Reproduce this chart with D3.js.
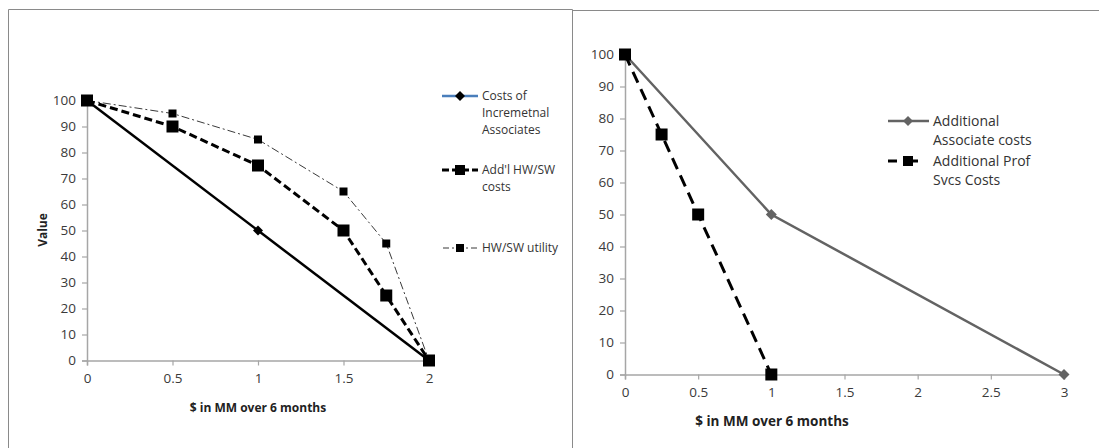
<!DOCTYPE html>
<html>
<head>
<meta charset="utf-8">
<script src="https://cdn.jsdelivr.net/npm/d3@7"></script>
<style>
  body { margin: 0; background: #fff; }
  text { font-family: "Open Sans", sans-serif; }
</style>
</head>
<body>
<svg width="1099" height="448"></svg>
<script>
// left chart data
const assocX = [0, 1, 2];
const assocY = [100, 50, 0];
const hwCostX = [0, 0.5, 1, 1.5, 1.75, 2];
const hwCostY = [100, 90, 75, 50, 25, 0];
const hwUtilX = [0, 0.5, 1, 1.5, 1.75, 2];
const hwUtilY = [100, 95, 85, 65, 45, 0];
const leftXTicks = [0, 0.5, 1, 1.5, 2];
const leftLegend = [['Costs of', 'Incremetnal', 'Associates'], ["Add'l HW/SW", 'costs'], ['HW/SW utility']];

// right chart data
const addAssocX = [0, 1, 3];
const addAssocY = [100, 50, 0];
const profX = [0, 0.25, 0.5, 1];
const profY = [100, 75, 50, 0];
const rightXTicks = [0, 0.5, 1, 1.5, 2, 2.5, 3];
const rightLegend = [['Additional', 'Associate costs'], ['Additional Prof', 'Svcs Costs']];

const yTicks = [0, 10, 20, 30, 40, 50, 60, 70, 80, 90, 100];
const xTitle = '$ in MM over 6 months';

const svg = d3.select('svg');
svg.append('rect').attr('width', 1099).attr('height', 448).attr('fill', '#fff');

// panel borders
svg.append('path')
  .attr('d', 'M8.5,448 V9.5 H572.5 V448 M572.5,10.5 H1099')
  .attr('fill', 'none').attr('stroke', '#8a8a8a').attr('stroke-width', 1);

const zip = (xs, ys) => xs.map((x, i) => [x, ys[i]]);

function drawAxes(g, x, y, xTicks) {
  const xa = g.append('g').attr('transform', `translate(0,${y(0)})`)
    .call(d3.axisBottom(x).tickValues(xTicks).tickSize(5).tickPadding(8).tickFormat(d3.format('')));
  const ya = g.append('g').attr('transform', `translate(${x(0)},0)`)
    .call(d3.axisLeft(y).tickValues(yTicks).tickSize(5).tickPadding(6));
  [xa, ya].forEach(a => {
    a.attr('font-size', 13.5).attr('font-family', null);
    a.select('.domain').attr('stroke', '#a6a6a6').attr('stroke-width', 1.5);
    a.selectAll('.tick line').attr('stroke', '#a6a6a6').attr('stroke-width', 1.2);
    a.selectAll('.tick text').attr('fill', '#3a3a3a');
  });
}

function square(g, pts, x, y, s, fill) {
  g.selectAll(null).data(pts).join('rect')
    .attr('x', d => x(d[0]) - s / 2).attr('y', d => y(d[1]) - s / 2)
    .attr('width', s).attr('height', s).attr('fill', fill);
}
function diamond(g, pts, x, y, s, fill) {
  g.selectAll(null).data(pts).join('path')
    .attr('d', d => `M${x(d[0])},${y(d[1]) - s} l${s},${s} l${-s},${s} l${-s},${-s}Z`)
    .attr('fill', fill);
}

const line = (x, y) => d3.line().x(d => x(d[0])).y(d => y(d[1]));

// ---------- left chart ----------
const lx = d3.scaleLinear().domain([0, 2]).range([87, 429]);
const ly = d3.scaleLinear().domain([0, 100]).range([360.5, 100.5]);
const left = svg.append('g');
drawAxes(left, lx, ly, leftXTicks);

left.append('path').datum(zip(assocX, assocY)).attr('d', line(lx, ly))
  .attr('fill', 'none').attr('stroke', '#000').attr('stroke-width', 2.5);
diamond(left, zip(assocX, assocY), lx, ly, 5, '#000');

left.append('path').datum(zip(hwUtilX, hwUtilY)).attr('d', line(lx, ly))
  .attr('fill', 'none').attr('stroke', '#222').attr('stroke-width', 0.9)
  .attr('stroke-dasharray', '8,3,2,3');
square(left, zip(hwUtilX, hwUtilY), lx, ly, 8, '#000');

left.append('path').datum(zip(hwCostX, hwCostY)).attr('d', line(lx, ly))
  .attr('fill', 'none').attr('stroke', '#000').attr('stroke-width', 3)
  .attr('stroke-dasharray', '8,4');
square(left, zip(hwCostX, hwCostY), lx, ly, 12, '#000');

left.append('text').attr('transform', 'translate(47,230) rotate(-90)')
  .attr('text-anchor', 'middle').attr('font-weight', 'bold')
  .style('font-size', '12px').attr('fill', '#222').text('Value');
left.append('text').attr('x', 258).attr('y', 412)
  .attr('text-anchor', 'middle').attr('font-weight', 'bold')
  .style('font-size', '12px').attr('fill', '#222').text(xTitle);

// left legend
const lLeg = left.append('g');
const lLegY = [96, 170, 248];
leftLegend.forEach((lines, i) => {
  lines.forEach((t, j) => {
    lLeg.append('text').attr('x', 482).attr('y', lLegY[i] + j * 17 + 4)
      .style('font-size', '12px').attr('fill', '#333').text(t);
  });
});
lLeg.append('line').attr('x1', 442).attr('x2', 478).attr('y1', lLegY[0]).attr('y2', lLegY[0])
  .attr('stroke', '#4a7ebb').attr('stroke-width', 2.5);
lLeg.append('path').attr('d', `M460,${lLegY[0] - 5} l5,5 l-5,5 l-5,-5Z`).attr('fill', '#000');
lLeg.append('line').attr('x1', 442).attr('x2', 478).attr('y1', lLegY[1]).attr('y2', lLegY[1])
  .attr('stroke', '#000').attr('stroke-width', 3).attr('stroke-dasharray', '7,3');
lLeg.append('rect').attr('x', 455).attr('y', lLegY[1] - 5).attr('width', 10).attr('height', 10).attr('fill', '#000');
lLeg.append('line').attr('x1', 443).attr('x2', 477).attr('y1', lLegY[2]).attr('y2', lLegY[2])
  .attr('stroke', '#222').attr('stroke-width', 0.9).attr('stroke-dasharray', '6,3,2,3');
lLeg.append('rect').attr('x', 456).attr('y', lLegY[2] - 4).attr('width', 8).attr('height', 8).attr('fill', '#000');

// ---------- right chart ----------
const rx = d3.scaleLinear().domain([0, 3]).range([625, 1064]);
const ry = d3.scaleLinear().domain([0, 100]).range([374.5, 54.5]);
const right = svg.append('g');
drawAxes(right, rx, ry, rightXTicks);

right.append('path').datum(zip(addAssocX, addAssocY)).attr('d', line(rx, ry))
  .attr('fill', 'none').attr('stroke', '#636363').attr('stroke-width', 2.5);
diamond(right, zip(addAssocX, addAssocY), rx, ry, 5.5, '#636363');

right.append('path').datum(zip(profX, profY)).attr('d', line(rx, ry))
  .attr('fill', 'none').attr('stroke', '#000').attr('stroke-width', 3)
  .attr('stroke-dasharray', '12,7');
square(right, zip(profX, profY), rx, ry, 12, '#000');

right.append('text').attr('x', 772).attr('y', 426)
  .attr('text-anchor', 'middle').attr('font-weight', 'bold')
  .style('font-size', '13.5px').attr('fill', '#222').text(xTitle);

// right legend
const rLeg = right.append('g');
const rLegY = [121, 161];
rightLegend.forEach((lines, i) => {
  lines.forEach((t, j) => {
    rLeg.append('text').attr('x', 933).attr('y', rLegY[i] + j * 19 + 5)
      .style('font-size', '14px').attr('fill', '#333').text(t);
  });
});
rLeg.append('line').attr('x1', 888).attr('x2', 929).attr('y1', rLegY[0]).attr('y2', rLegY[0])
  .attr('stroke', '#636363').attr('stroke-width', 2.5);
rLeg.append('path').attr('d', `M908,${rLegY[0] - 5} l5,5 l-5,5 l-5,-5Z`).attr('fill', '#636363');
rLeg.append('line').attr('x1', 888).attr('x2', 897).attr('y1', rLegY[1]).attr('y2', rLegY[1])
  .attr('stroke', '#000').attr('stroke-width', 3);
rLeg.append('line').attr('x1', 913).attr('x2', 918).attr('y1', rLegY[1]).attr('y2', rLegY[1])
  .attr('stroke', '#000').attr('stroke-width', 3);
rLeg.append('rect').attr('x', 903).attr('y', rLegY[1] - 5).attr('width', 10).attr('height', 10).attr('fill', '#000');
</script>
</body>
</html>
